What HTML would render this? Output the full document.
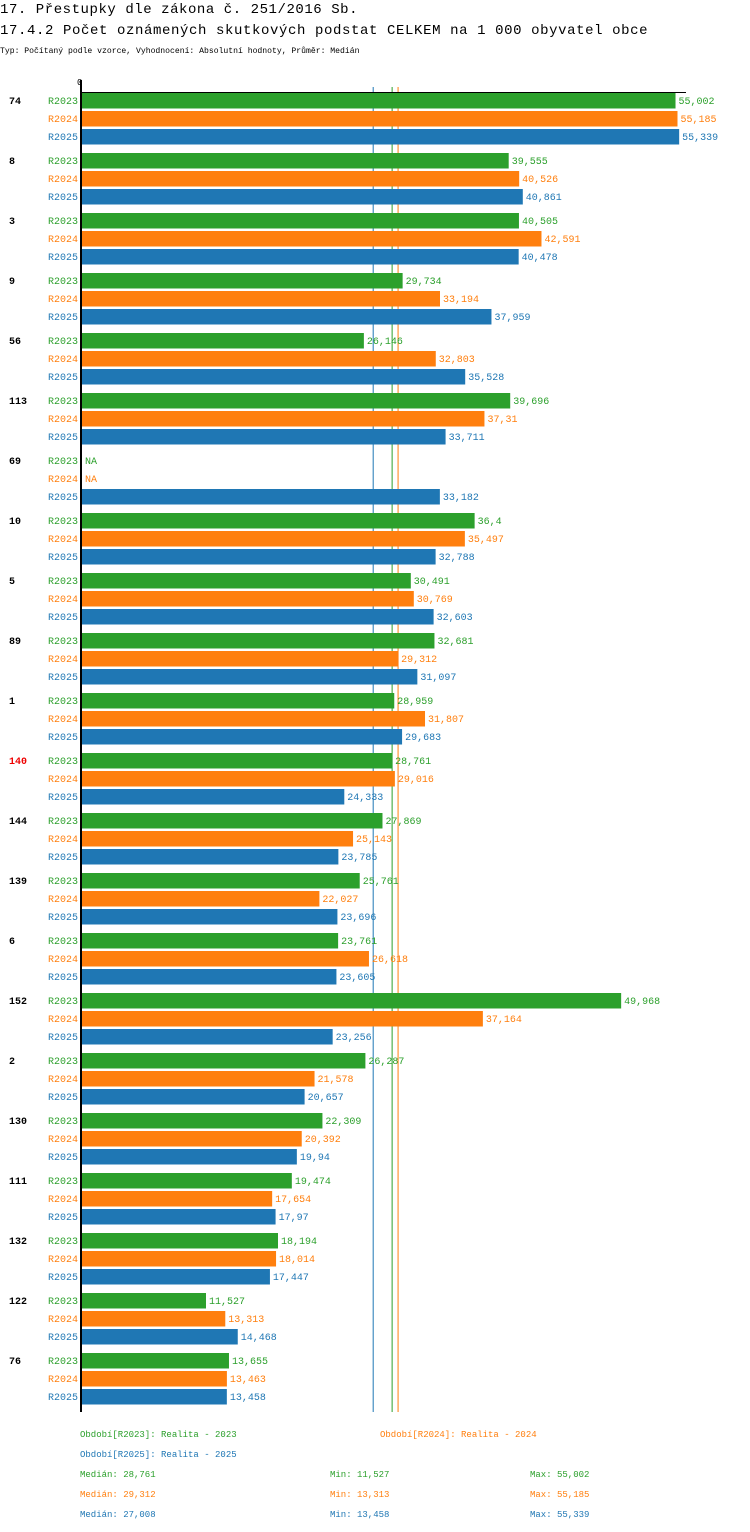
<!DOCTYPE html>
<html><head><meta charset="utf-8"><style>
body{margin:0;background:#fff;width:750px;height:1532px;overflow:hidden;font-family:"Liberation Mono",monospace}
svg{display:block}
</style></head><body>
<svg id="chart" width="750" height="1532" xmlns="http://www.w3.org/2000/svg" font-family="Liberation Mono, monospace">
<text x="0" y="13" font-size="14" letter-spacing="0.55">17. Přestupky dle zákona č. 251/2016 Sb.</text>
<text x="0" y="34" font-size="14" letter-spacing="0.6">17.4.2 Počet oznámených skutkových podstat CELKEM na 1 000 obyvatel obce</text>
<text x="0" y="53" font-size="8.1">Typ: Počítaný podle vzorce, Vyhodnocení: Absolutní hodnoty, Průměr: Medián</text>
<text x="77" y="85" font-size="9">0</text>
<g id="bars"></g>
<g id="legend" font-size="9">
<text x="80" y="1437" fill="#2ca02c">Období[R2023]: Realita - 2023</text>
<text x="380" y="1437" fill="#ff7f0e">Období[R2024]: Realita - 2024</text>
<text x="80" y="1457" fill="#1f77b4">Období[R2025]: Realita - 2025</text>
<text x="80" y="1477" fill="#2ca02c">Medián: 28,761</text>
<text x="330" y="1477" fill="#2ca02c">Min: 11,527</text>
<text x="530" y="1477" fill="#2ca02c">Max: 55,002</text>
<text x="80" y="1497" fill="#ff7f0e">Medián: 29,312</text>
<text x="330" y="1497" fill="#ff7f0e">Min: 13,313</text>
<text x="530" y="1497" fill="#ff7f0e">Max: 55,185</text>
<text x="80" y="1517" fill="#1f77b4">Medián: 27,008</text>
<text x="330" y="1517" fill="#1f77b4">Min: 13,458</text>
<text x="530" y="1517" fill="#1f77b4">Max: 55,339</text>
</g>
</svg>
<script>
const categories=["74","8","3","9","56","113","69","10","5","89","1","140","144","139","6","152","2","130","111","132","122","76"];
const seriesNames=["R2023","R2024","R2025"];
const r2023=[55.002,39.555,40.505,29.734,26.146,39.696,null,36.4,30.491,32.681,28.959,28.761,27.869,25.761,23.761,49.968,26.287,22.309,19.474,18.194,11.527,13.655];
const r2024=[55.185,40.526,42.591,33.194,32.803,37.31,null,35.497,30.769,29.312,31.807,29.016,25.143,22.027,26.618,37.164,21.578,20.392,17.654,18.014,13.313,13.463];
const r2025=[55.339,40.861,40.478,37.959,35.528,33.711,33.182,32.788,32.603,31.097,29.683,24.333,23.785,23.696,23.605,23.256,20.657,19.94,17.97,17.447,14.468,13.458];
const medians=[28.761,29.312,27.008];
const highlighted=["140"];
const colors=["#2ca02c","#ff7f0e","#1f77b4"];
const NS="http://www.w3.org/2000/svg";
const X0=81.5,SCALE=10.8,Y0=92,GROUP=60;
function xs(v){return X0+v*SCALE;}
function gy(i){return Y0+i*GROUP;}
const barGroup=document.getElementById('bars');
function mk(tag,attrs){const e=document.createElementNS(NS,tag);for(const k in attrs)e.setAttribute(k,attrs[k]);barGroup.appendChild(e);return e;}
function fmt(v){return String(v).replace('.',',');}
const allSeries=[r2023,r2024,r2025];
const bottomY=gy(categories.length);
medians.forEach((m,j)=>{
  const l=mk('line',{x1:xs(m),x2:xs(m),y1:87,y2:bottomY,stroke:colors[j],'stroke-width':1});
  
  
});
categories.forEach((c,i)=>{
  const t=mk('text',{x:9,y:gy(i)+12,'font-size':10,'font-weight':'bold',fill:highlighted.includes(c)?'#e00':'#000'});
  t.textContent=c;
  
  
  allSeries.forEach((s,j)=>{
    const y=gy(i)+j*18;
    const l=mk('text',{x:78,y:y+12,'font-size':10,'text-anchor':'end',fill:colors[j]});
    l.textContent=seriesNames[j];
    
    
    const v=s[i];
    if(v!==null){
      const r=mk('rect',{x:82,y:y+1,width:xs(v)-82,height:15.5,fill:colors[j]});
      
      
    }
    const vt=mk('text',{x:(v!==null?xs(v):82)+3,y:y+12,'font-size':10,fill:colors[j]});
    vt.textContent=v!==null?fmt(v):'NA';
    
    
  });
});
const axLine=mk('line',{x1:81,x2:81,y1:80,y2:bottomY,stroke:'#000','stroke-width':2});


const topLine=mk('line',{x1:80,x2:686,y1:92.5,y2:92.5,stroke:'#000','stroke-width':1});


</script>
</body></html>
